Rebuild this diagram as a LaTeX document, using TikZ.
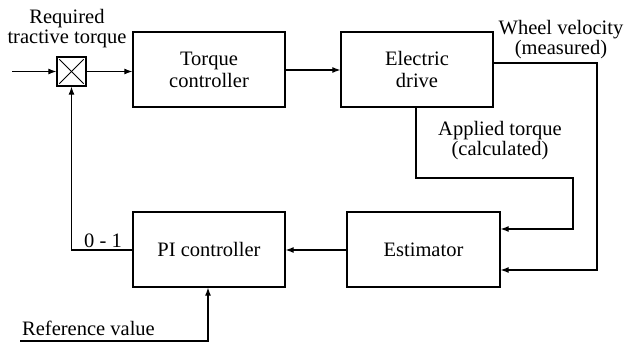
\documentclass[tikz,border=0pt]{standalone}
\usepackage{fontspec}
\setmainfont{Liberation Serif}
\usetikzlibrary{arrows.meta,calc}
\begin{document}
\begin{tikzpicture}[x=1pt,y=-1pt,
  every node/.style={font=\fontsize{20.5}{20}\selectfont},
  blk/.style={draw,line width=1.3pt,minimum height=75pt,inner sep=0pt,align=center,font=\fontsize{20.5}{22}\selectfont},
  conn/.style={line width=1.2pt},
  arr/.style={conn,-{Latex[length=8pt,width=6pt]}},
  lbl/.style={align=center,inner sep=0pt}]
\useasboundingbox (0,0) rectangle (625,343);
\node[blk,minimum width=152pt] (tc) at (209,69.5) {Torque\\controller};
\node[blk,minimum width=152pt] (ed) at (417,69.5) {Electric\\drive};
\node[blk,minimum width=152pt] (pi) at (209,249.5) {PI controller};
\node[blk,minimum width=153pt] (est) at (423.5,249.5) {Estimator};
\node[draw,line width=1.3pt,minimum width=29pt,minimum height=29pt,inner sep=0pt] (mx) at (71.5,71.5) {};
\draw[line width=1pt] ($(mx.north west)+(3,3)$) -- ($(mx.south east)+(-3,-3)$);
\draw[line width=1pt] ($(mx.north east)+(-3,3)$) -- ($(mx.south west)+(3,-3)$);
% input
\coordinate (in) at (12,71.5);
\draw[arr] (in) -- (mx.west);
\draw[arr] (mx.east) -- (mx.east -| tc.west);
\draw[arr] (tc.east |- 0,70) -- (ed.west |- 0,70);
% wheel velocity
\coordinate (wv1) at (597,63);
\coordinate (wv2) at (597,270);
\draw[arr] (ed.east |- wv1) -- (wv1) -- (wv2) -- (wv2 -| est.east);
% applied torque
\coordinate (at1) at (416,178);
\coordinate (at2) at (573,178);
\coordinate (at3) at (573,229);
\draw[arr] (ed.south -| at1) -- (at1) -- (at2) -- (at3) -- (at3 -| est.east);
% estimator -> PI
\draw[arr] (est.west |- 0,250) -- (pi.east |- 0,250);
% PI -> multiplier
\coordinate (fb) at (71.5,250);
\draw[arr] (pi.west |- fb) -- (fb) -- (mx.south);
% reference
\coordinate (r1) at (20,341);
\coordinate (r2) at (208,341);
\draw[arr] (r1) -- (r2) -- (pi.south -| r2);
% labels
\node[lbl] (l1) at (67,29) {Required\\tractive torque};
\node[lbl] (l2) at (561,40) {Wheel velocity\\(measured)};
\node[lbl] (l3) at (500,141) {Applied torque\\(calculated)};
\node[lbl] (l4) at (103,241) {0 - 1};
\node[lbl,anchor=base west] (l5) at (22,335) {Reference value};
\end{tikzpicture}
\end{document}
